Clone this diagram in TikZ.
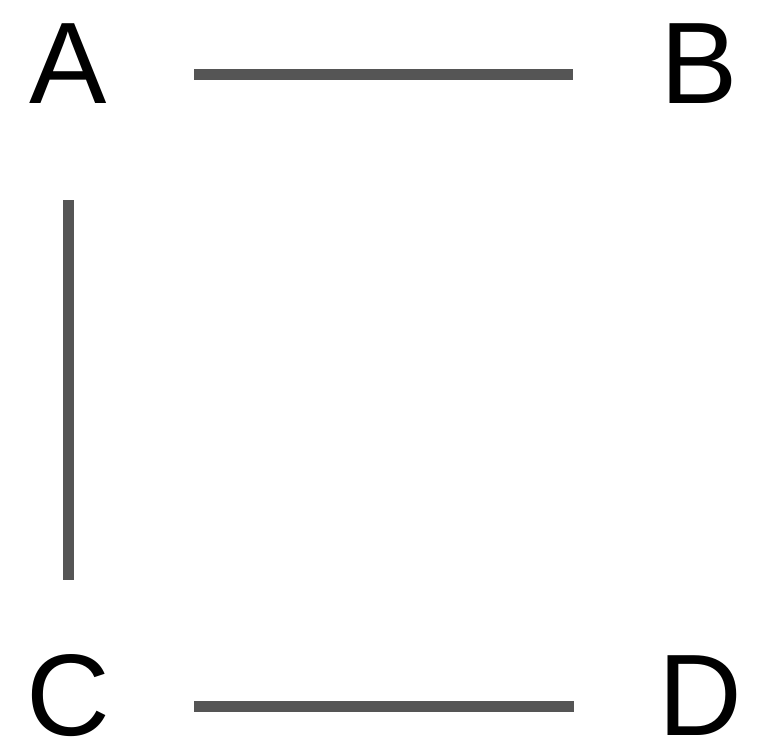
\documentclass[tikz,border=0pt]{standalone}
\usepackage{fontspec}
\setmainfont{Liberation Sans}
\definecolor{edgegray}{HTML}{555555}
\begin{document}
\begin{tikzpicture}[x=1pt,y=-1pt,
  vert/.style={shape=circle,minimum size=252pt,inner sep=0pt,outer sep=0pt,
    font=\fontsize{116}{130}\selectfont,text height=58pt,text depth=0pt},
  conn/.style={draw=edgegray,line width=11pt}]
\useasboundingbox[fill=white] (0,0) rectangle (769,750);
\node[vert] (A) at (68,74) {A};
\node[vert] (B) at (699,74) {B};
\node[vert] (C) at (68,706) {C};
\node[vert] (D) at (700,706) {D};
\draw[conn] (A) -- (B);
\draw[conn] (A) -- (C);
\draw[conn] (C) -- (D);
\end{tikzpicture}
\end{document}
